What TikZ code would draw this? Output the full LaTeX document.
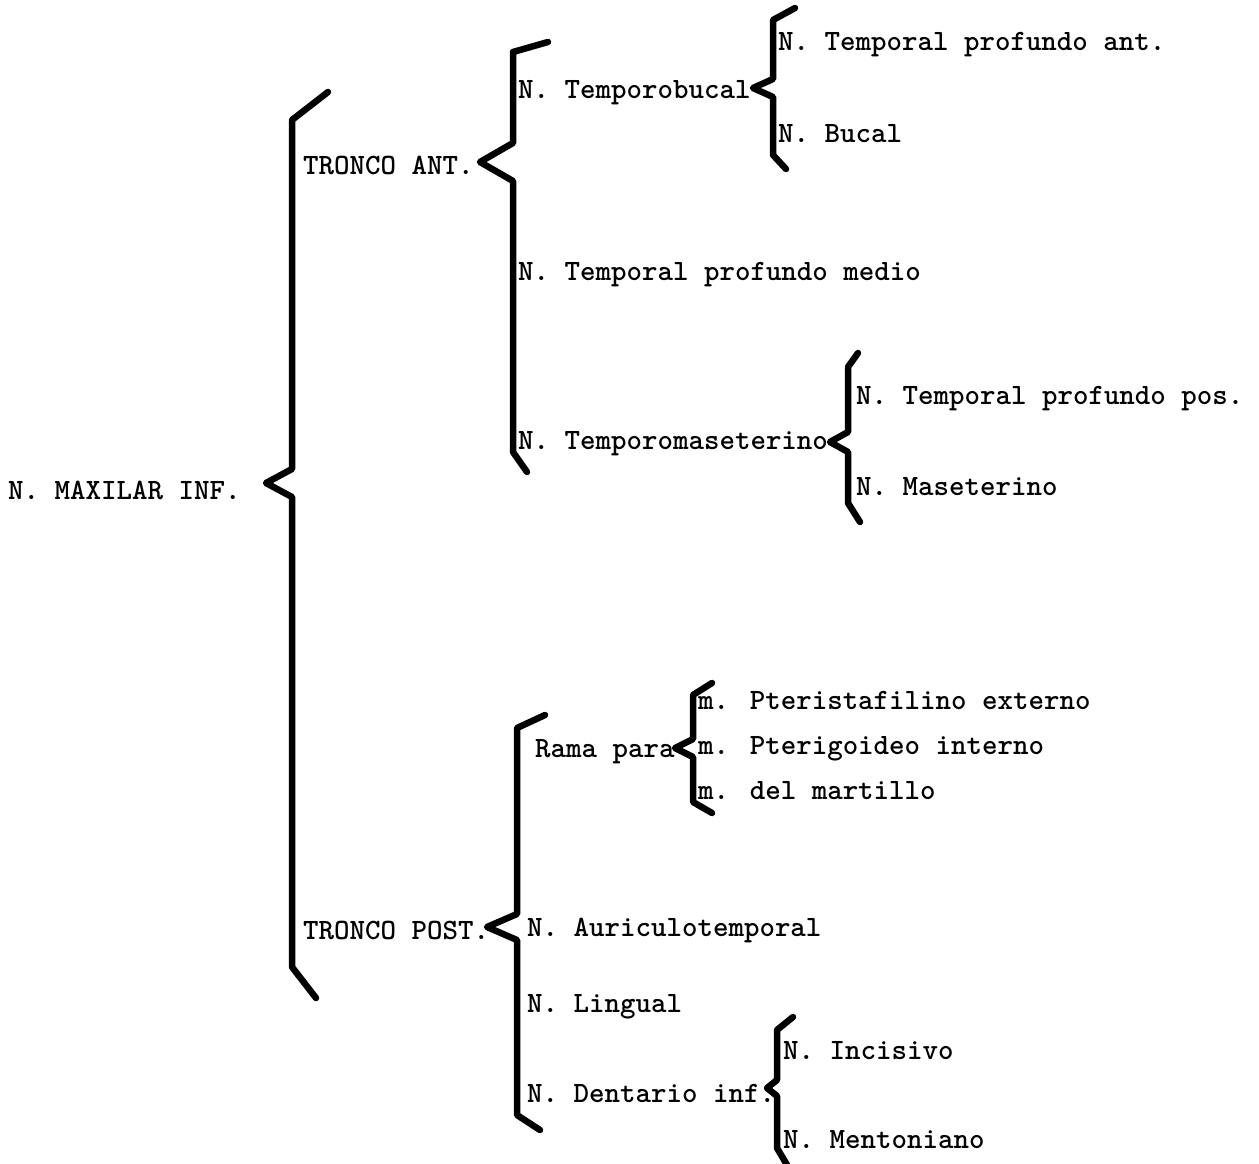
\documentclass[tikz,border=0pt]{standalone}
\usepackage{fontspec}
\newfontfamily\typew{lmmonolt10-bold.otf}

% --- typewriter bracket: x, top y, notch y, bottom y, notch depth, notch half, top tip, bottom tip ---
\newcommand{\tbrace}[8]{%
  \draw[brk] #7 -- (#1,#2) -- (#1,#3-#6) -- (#1-#5,#3) -- (#1,#3+#6) -- (#1,#4) -- #8;
}

\begin{document}
\begin{tikzpicture}[x=1pt, y=-1pt, line cap=round, line join=round,
  lbl/.style={anchor=base west, inner sep=0pt, yshift=-9pt,
    font=\typew\fontsize{29.5}{34}\selectfont},
  brk/.style={line width=6.5pt}]

\fill[white] (0,0) rectangle (1259,1164);
\useasboundingbox (0,0) rectangle (1259,1164);

% --- root and trunks ---
\node[lbl] (maxilar) at (8,490) {N. MAXILAR INF.};
\node[lbl] (tant) at (303,165) {TRONCO ANT.};
\node[lbl] (tpost) at (303,930) {TRONCO POST.};

% --- anterior trunk ---
\node[lbl] (tbuc) at (518,90) {N. Temporobucal};
\node[lbl] (tpant) at (778,42) {N. Temporal profundo ant.};
\node[lbl] (bucal) at (778,133) {N. Bucal};
\node[lbl] (tpmed) at (518,271) {N. Temporal profundo medio};
\node[lbl] (tmas) at (518,440) {N. Temporomaseterino};
\node[lbl] (tppos) at (856,395) {N. Temporal profundo pos.};
\node[lbl] (mas) at (856,486) {N. Maseterino};

% --- posterior trunk ---
\node[lbl] (rama) at (535,748) {Rama para};
\node[lbl] (pext) at (698,700) {m. Pteristafilino externo};
\node[lbl] (pint) at (698,745) {m. Pterigoideo interno};
\node[lbl] (mart) at (698,790) {m. del martillo};
\node[lbl] (auric) at (527,927) {N. Auriculotemporal};
\node[lbl] (ling) at (527,1003) {N. Lingual};
\node[lbl] (dent) at (527,1093) {N. Dentario inf.};
\node[lbl] (incis) at (783,1050) {N. Incisivo};
\node[lbl] (ment) at (783,1139) {N. Mentoniano};

% --- brackets ---
\tbrace{292}{120}{483}{967}{26}{14}{(328,92)}{(316,998)}
\tbrace{513}{52}{162}{452}{33}{19}{(548,42)}{(527,472)}
\tbrace{773}{20}{88}{155}{20}{9}{(795,8)}{(786,169)}
\tbrace{848}{367}{442}{503}{18}{10}{(858,353)}{(860,522)}
\tbrace{517}{728}{927}{1115}{30}{13}{(545,715)}{(540,1130)}
\tbrace{693}{695}{748}{802}{18}{9}{(712,683)}{(712,813)}
\tbrace{777}{1030}{1088}{1148}{10}{8}{(793,1017)}{(790,1170)}

\end{tikzpicture}
\end{document}
